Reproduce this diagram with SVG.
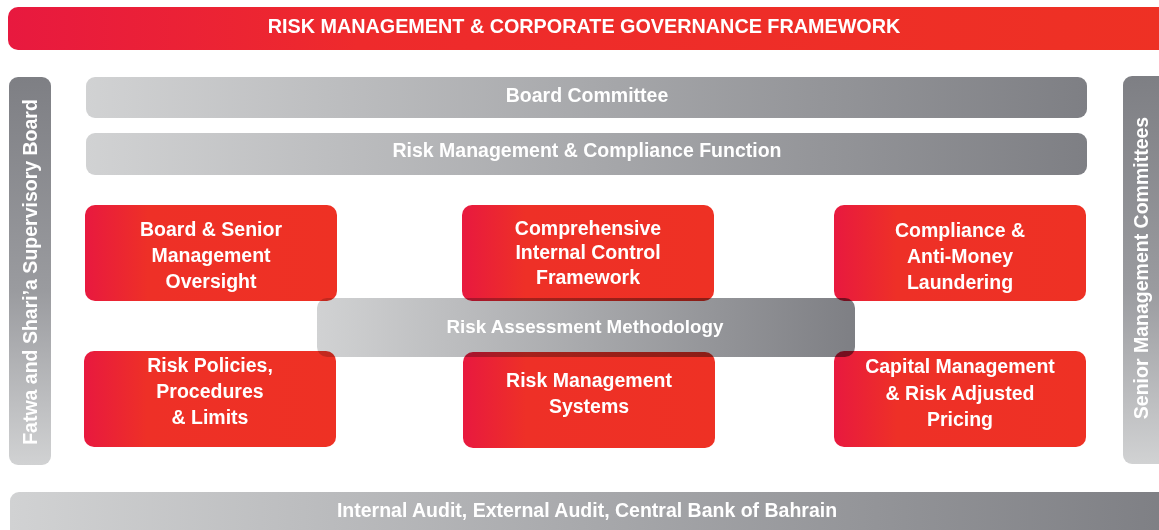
<svg xmlns="http://www.w3.org/2000/svg" width="1159" height="530" viewBox="0 0 1159 530">
<defs>
<linearGradient id="red" x1="0" y1="0" x2="1" y2="0">
<stop offset="0" stop-color="#e8193f"/>
<stop offset="0.25" stop-color="#ee3027"/>
<stop offset="1" stop-color="#ee3124"/>
</linearGradient>
<linearGradient id="redTop" x1="0" y1="0" x2="1" y2="0">
<stop offset="0" stop-color="#e8193f"/>
<stop offset="0.3" stop-color="#ee2a2c"/>
<stop offset="1" stop-color="#ee3124"/>
</linearGradient>
<linearGradient id="greyH" x1="0" y1="0" x2="1" y2="0">
<stop offset="0" stop-color="#d1d2d3"/>
<stop offset="1" stop-color="#7e7f84"/>
</linearGradient>
<linearGradient id="greyV" x1="0" y1="0" x2="0" y2="1">
<stop offset="0" stop-color="#7e7f84"/>
<stop offset="0.55" stop-color="#9a9b9f"/>
<stop offset="1" stop-color="#d1d2d3"/>
</linearGradient>
</defs>
<style>
.t{font-family:"Liberation Sans",Arial,sans-serif;font-weight:bold;fill:#ffffff;text-anchor:middle;}
.big{font-size:19.5px;}
.box{fill:url(#red);}
.bar{fill:url(#greyH);}
.vbar{fill:url(#greyV);}
</style>
<rect width="1159" height="530" fill="#ffffff"/>

<g id="title">
<rect x="8" y="7" width="1165" height="43" rx="10" fill="url(#redTop)"/>
<text class="t" x="584" y="33" font-size="19.8">RISK MANAGEMENT &amp; CORPORATE GOVERNANCE FRAMEWORK</text>
</g>

<g id="fatwa">
<rect x="9" y="77" width="42" height="388" rx="9" class="vbar"/>
<text class="t big" transform="translate(37,272) rotate(-90)">Fatwa and Shari’a Supervisory Board</text>
</g>

<g id="senior">
<rect x="1123" y="76" width="46" height="388" rx="9" class="vbar"/>
<text class="t big" transform="translate(1148,268) rotate(-90)">Senior Management Committees</text>
</g>

<g id="board-committee">
<rect x="86" y="77" width="1001" height="41" rx="9" class="bar"/>
<text class="t big" x="587" y="102">Board Committee</text>
</g>

<g id="risk-compliance">
<rect x="86" y="133" width="1001" height="42" rx="9" class="bar"/>
<text class="t big" x="587" y="157">Risk Management &amp; Compliance Function</text>
</g>

<g id="board-senior">
<rect x="85" y="205" width="252" height="96" rx="10" class="box"/>
<text class="t big" x="211" y="236">Board &amp; Senior</text>
<text class="t big" x="211" y="262">Management</text>
<text class="t big" x="211" y="288">Oversight</text>
</g>

<g id="internal-control">
<rect x="462" y="205" width="252" height="96" rx="10" class="box"/>
<text class="t big" x="588" y="235">Comprehensive</text>
<text class="t big" x="588" y="259">Internal Control</text>
<text class="t big" x="588" y="284">Framework</text>
</g>

<g id="compliance-aml">
<rect x="834" y="205" width="252" height="96" rx="10" class="box"/>
<text class="t big" x="960" y="237">Compliance &amp;</text>
<text class="t big" x="960" y="263">Anti-Money</text>
<text class="t big" x="960" y="289">Laundering</text>
</g>

<g id="risk-policies">
<rect x="84" y="351" width="252" height="96" rx="10" class="box"/>
<text class="t big" x="210" y="372">Risk Policies,</text>
<text class="t big" x="210" y="398">Procedures</text>
<text class="t big" x="210" y="424">&amp; Limits</text>
</g>

<g id="risk-systems">
<rect x="463" y="352" width="252" height="96" rx="10" class="box"/>
<text class="t big" x="589" y="387">Risk Management</text>
<text class="t big" x="589" y="413">Systems</text>
</g>

<g id="capital">
<rect x="834" y="351" width="252" height="96" rx="10" class="box"/>
<text class="t big" x="960" y="373">Capital Management</text>
<text class="t big" x="960" y="400">&amp; Risk Adjusted</text>
<text class="t big" x="960" y="426">Pricing</text>
</g>

<g id="risk-assessment">
<rect x="317" y="298" width="538" height="59" rx="10" class="bar" style="mix-blend-mode:multiply"/>
<text class="t" x="585" y="333" font-size="18.8">Risk Assessment Methodology</text>
</g>

<g id="audit">
<rect x="10" y="492" width="1160" height="50" rx="9" class="bar"/>
<text class="t big" x="587" y="517">Internal Audit, External Audit, Central Bank of Bahrain</text>
</g>

<g id="connectors"></g>
</svg>
